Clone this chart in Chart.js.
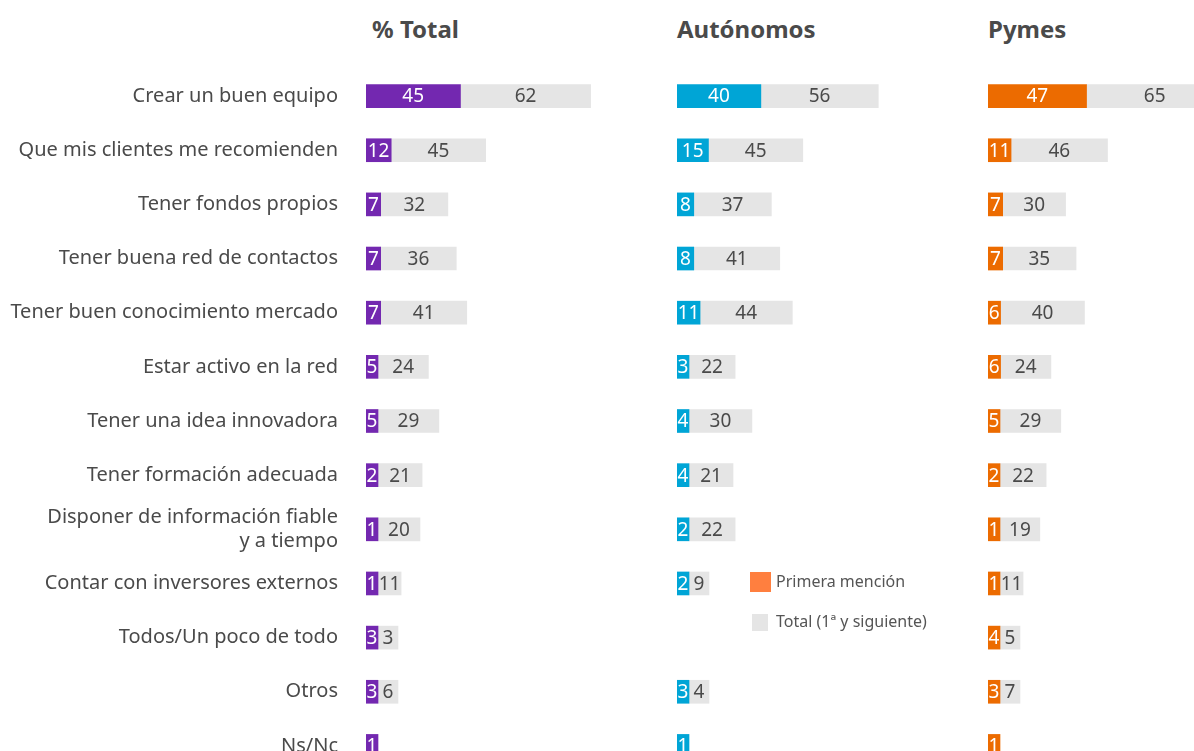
<!DOCTYPE html>
<html>
<head>
<meta charset="utf-8">
<script src="https://cdn.jsdelivr.net/npm/chart.js@4"></script>
<style>
  html, body { margin: 0; padding: 0; background: #fff; width: 1194px; height: 751px; overflow: hidden; }
  body { position: relative; font-family: "Noto Sans", sans-serif; color: #4a4a4a; }
  .title { position: absolute; top: 12px; font-size: 24px; font-weight: bold; color: #4a4a4a; }
  canvas { position: absolute; top: 69px; }
  .legend { position: absolute; left: 776px; font-size: 16px; color: #555; }
  .sw { position: absolute; }
</style>
</head>
<body>
<div class="title" style="left:372px">% Total</div>
<div class="title" style="left:677px">Autónomos</div>
<div class="title" style="left:988px">Pymes</div>

<canvas id="c-total" width="620" height="704" style="left:0px"></canvas>
<canvas id="c-auto" width="260" height="704" style="left:677px"></canvas>
<canvas id="c-pymes" width="260" height="704" style="left:988px"></canvas>

<div class="sw" style="left:750px;top:572px;width:21px;height:20px;background:#FF7F3F"></div>
<div class="legend" style="top:570px">Primera mención</div>
<div class="sw" style="left:752px;top:614px;width:16px;height:17px;background:#E5E5E5"></div>
<div class="legend" style="top:610px">Total (1ª y siguiente)</div>

<script>
const categories = [
    'Crear un buen equipo',
    'Que mis clientes me recomienden',
    'Tener fondos propios',
    'Tener buena red de contactos',
    'Tener buen conocimiento mercado',
    'Estar activo en la red',
    'Tener una idea innovadora',
    'Tener formación adecuada',
    ['Disponer de información fiable', 'y a tiempo'],
    'Contar con inversores externos',
    'Todos/Un poco de todo',
    'Otros',
    'Ns/Nc',
];

// primera mención / total (1ª y siguiente)
const totalFirst = [45, 12, 7, 7, 7, 5, 5, 2, 1, 1, 3, 3, 1];
const totalAll   = [62, 45, 32, 36, 41, 24, 29, 21, 20, 11, 3, 6, null];
const autoFirst  = [40, 15, 8, 8, 11, 3, 4, 4, 2, 2, null, 3, 1];
const autoAll    = [56, 45, 37, 41, 44, 22, 30, 21, 22, 9, null, 4, null];
const pymesFirst = [47, 11, 7, 7, 6, 6, 5, 2, 1, 1, 4, 3, 1];
const pymesAll   = [65, 46, 30, 35, 40, 24, 29, 22, 19, 11, 5, 7, null];

const GREY = '#E5E5E5';
const TEXT = '#4a4a4a';
const FONT = '"Noto Sans", sans-serif';

// draws the value inside each bar
const barLabels = {
    id: 'barLabels',
    afterDatasetsDraw(chart) {
        const ctx = chart.ctx;
        const first = chart.getDatasetMeta(0).data;
        const all = chart.getDatasetMeta(1).data;
        ctx.save();
        ctx.font = '19px ' + FONT;
        ctx.textAlign = 'center';
        ctx.textBaseline = 'middle';
        chart.data.labels.forEach((l, i) => {
            const v1 = chart.data.datasets[0].data[i];
            const v2 = chart.data.datasets[1].data[i];
            let end1 = chart.chartArea.left;
            if (v1 != null && first[i]) {
                const b = first[i];
                end1 = Math.max(b.x, b.base);
                ctx.fillStyle = '#fff';
                ctx.fillText(v1, (b.x + b.base) / 2, b.y + 1);
            }
            if (v2 != null && all[i]) {
                const b = all[i];
                const start = Math.max(end1, Math.min(b.x, b.base));
                ctx.fillStyle = TEXT;
                ctx.fillText(v2, (start + Math.max(b.x, b.base)) / 2, b.y + 1);
            }
        });
        ctx.restore();
    }
};

const makeChart = (id, first, all, color, max, showLabels) => {
    return new Chart(document.getElementById(id), {
        type: 'bar',
        data: {
            labels: categories,
            datasets: [{
                data: first,
                backgroundColor: color,
                barThickness: 23,
                minBarLength: 12,
                borderWidth: 0,
            }, {
                data: all,
                backgroundColor: GREY,
                barThickness: 23,
                minBarLength: 20,
                borderWidth: 0,
            }]
        },
        options: {
            indexAxis: 'y',
            responsive: false,
            animation: false,
            layout: { padding: 0 },
            plugins: {
                legend: { display: false },
                tooltip: { enabled: false },
            },
            scales: {
                x: {
                    stacked: true,
                    display: false,
                    min: 0,
                    max: max,
                },
                y: {
                    stacked: true,
                    display: showLabels,
                    grid: { display: false, drawTicks: false },
                    border: { display: false },
                    ticks: {
                        color: TEXT,
                        font: { family: FONT, size: 20 },
                        padding: 28,
                    },
                    afterFit: (scale) => {
                        if (!showLabels) return;
                        scale.width = 366;
                        scale.paddingTop = 0;
                        scale.paddingBottom = 0;
                    },
                }
            }
        },
        plugins: [barLabels]
    });
};

makeChart('c-total', totalFirst, totalAll, '#7328B0', 121, true);
makeChart('c-auto', autoFirst, autoAll, '#00A5D6', 124, false);
makeChart('c-pymes', pymesFirst, pymesAll, '#EC6B00', 124, false);
</script>
</body>
</html>
